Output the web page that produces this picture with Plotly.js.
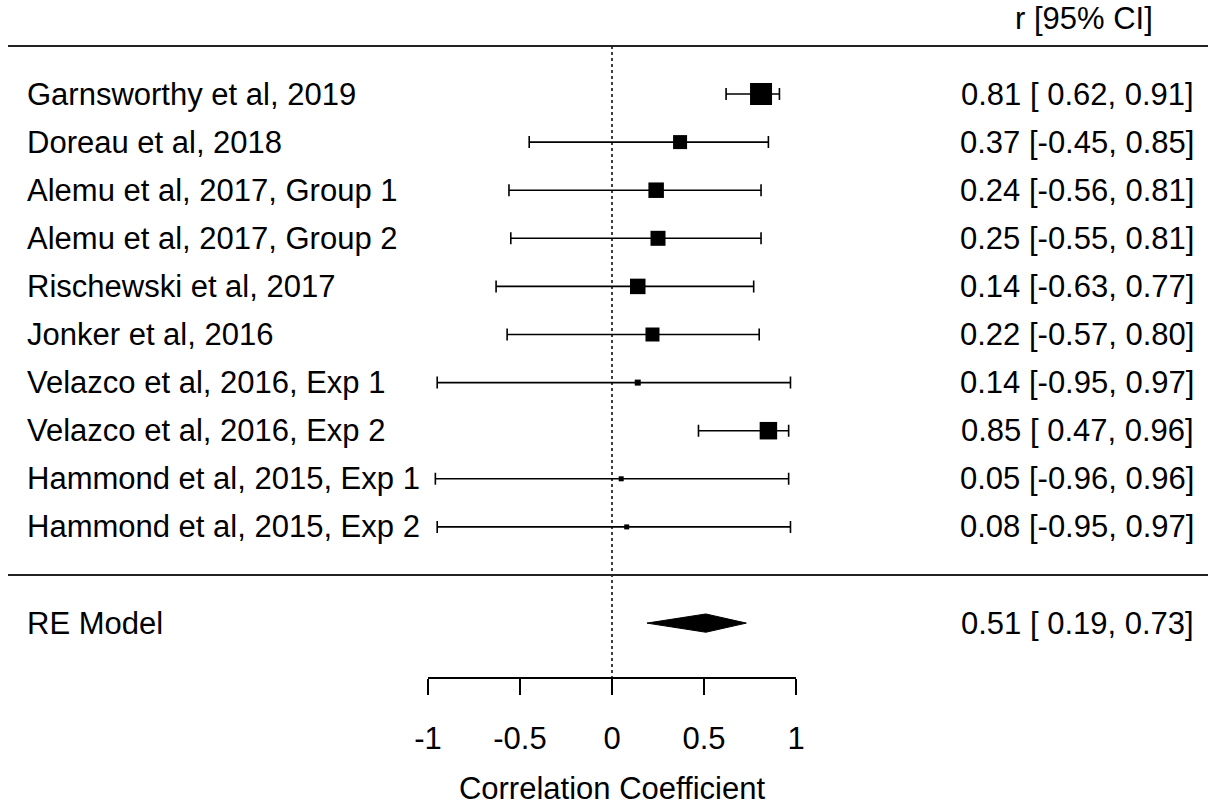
<!DOCTYPE html>
<html>
<head>
<meta charset="utf-8">
<script src="https://cdn.plot.ly/plotly-3.0.1.min.js"></script>
<style>html,body{margin:0;padding:0;background:#fff;}#chart{width:1208px;height:809px;}</style>
</head>
<body>
<div id="chart"></div>
<script>
// ---- data ----
var studies = ["Garnsworthy et al, 2019","Doreau et al, 2018","Alemu et al, 2017, Group 1","Alemu et al, 2017, Group 2","Rischewski et al, 2017","Jonker et al, 2016","Velazco et al, 2016, Exp 1","Velazco et al, 2016, Exp 2","Hammond et al, 2015, Exp 1","Hammond et al, 2015, Exp 2"];
var estimates = [0.81, 0.37, 0.24, 0.25, 0.14, 0.22, 0.14, 0.85, 0.05, 0.08];
var ciLower = [0.62, -0.45, -0.56, -0.55, -0.63, -0.57, -0.95, 0.47, -0.96, -0.95];
var ciUpper = [0.91, 0.85, 0.81, 0.81, 0.77, 0.80, 0.97, 0.96, 0.96, 0.97];
var weights = [22, 14, 15.5, 15, 15.5, 14, 6, 17.5, 5, 5];
var reLabel = "RE Model";
var reEstimate = 0.51;
var reLower = 0.19;
var reUpper = 0.73;
var tickVals = [-1, -0.5, 0, 0.5, 1];
var tickLabels = ["-1", "-0.5", "0", "0.5", "1"];
var header = "r [95% CI]";
var xTitle = "Correlation Coefficient";

// ---- layout helpers ----
var W = 1208, H = 809;
var rowPx = 48.1, row10Px = 94;
var yMax = 10 + row10Px / rowPx;
var yMin = yMax - H / rowPx;
function rowOfPx(p){ return yMax - p / rowPx; }
var k = studies.length;
var rows = studies.map(function(_, i){ return k - i; });
var FONT = "Liberation Sans, Arial, sans-serif";
var FS = 31;

function fmt(v){ var s = v.toFixed(2); return v < 0 ? s : " " + s; }
function ciText(e, l, u){ return e.toFixed(2) + " [" + fmt(l) + ", " + u.toFixed(2) + "]"; }

var traces = [];
traces.push({
  type: "scatter", mode: "markers",
  x: estimates, y: rows,
  marker: {symbol: "square", size: weights, color: "black", opacity: 1, line: {width: 0}},
  error_x: {
    type: "data", symmetric: false,
    array: estimates.map(function(e, i){ return ciUpper[i] - e; }),
    arrayminus: estimates.map(function(e, i){ return e - ciLower[i]; }),
    color: "black", thickness: 1.6, width: 6
  },
  hoverinfo: "skip", showlegend: false, cliponaxis: false
});
var dh = 0.19;
traces.push({
  type: "scatter", mode: "lines",
  x: [reLower, reEstimate, reUpper, reEstimate, reLower],
  y: [-1, -1 + dh, -1, -1 - dh, -1],
  fill: "toself", fillcolor: "black",
  line: {color: "black", width: 1},
  hoverinfo: "skip", showlegend: false
});

var annotations = [];
studies.forEach(function(s, i){
  annotations.push({xref: "paper", yref: "y", x: 25 / W, y: rows[i], text: s, showarrow: false, xanchor: "left", yanchor: "middle", font: {family: FONT, size: FS, color: "black"}});
  annotations.push({xref: "paper", yref: "y", x: 1196 / W, y: rows[i], text: ciText(estimates[i], ciLower[i], ciUpper[i]), showarrow: false, xanchor: "right", yanchor: "middle", font: {family: FONT, size: FS, color: "black"}});
});
annotations.push({xref: "paper", yref: "y", x: 25 / W, y: -1, text: reLabel, showarrow: false, xanchor: "left", yanchor: "middle", font: {family: FONT, size: FS, color: "black"}});
annotations.push({xref: "paper", yref: "y", x: 1196 / W, y: -1, text: ciText(reEstimate, reLower, reUpper), showarrow: false, xanchor: "right", yanchor: "middle", font: {family: FONT, size: FS, color: "black"}});
annotations.push({xref: "paper", yref: "y", x: 1013 / W, y: rowOfPx(18), text: header, showarrow: false, xanchor: "left", yanchor: "middle", font: {family: FONT, size: FS, color: "black"}});

var shapes = [
  {type: "line", xref: "paper", yref: "y", x0: 8 / W, x1: 1, y0: k + 1, y1: k + 1, line: {color: "#222", width: 2}},
  {type: "line", xref: "paper", yref: "y", x0: 8 / W, x1: 1, y0: 0, y1: 0, line: {color: "#222", width: 2}},
  {type: "line", xref: "x", yref: "y", x0: 0, x1: 0, y0: k + 1, y1: rowOfPx(677), line: {color: "black", width: 1.5, dash: "dot"}, layer: "below"}
];

var layout = {
  width: W, height: H,
  margin: {l: 0, r: 0, t: 0, b: 0, pad: 0},
  paper_bgcolor: "white", plot_bgcolor: "white",
  showlegend: false,
  xaxis: {
    domain: [428 / W, 796 / W], range: [-1, 1],
    anchor: "free", position: 1 - 677 / H,
    showline: true, linecolor: "black", linewidth: 1.5,
    ticks: "outside", ticklen: 16, tickwidth: 1.5, tickcolor: "black",
    tickvals: tickVals, ticktext: tickLabels,
    tickfont: {family: FONT, size: FS, color: "black"},
    ticklabelstandoff: 17,
    showgrid: false, zeroline: false,
    title: {text: xTitle, font: {family: FONT, size: FS, color: "black"}, standoff: 22}
  },
  yaxis: {range: [yMin, yMax], visible: false, showgrid: false, zeroline: false, domain: [0, 1]},
  shapes: shapes,
  annotations: annotations
};

Plotly.newPlot("chart", traces, layout, {displayModeBar: false, staticPlot: true});
</script>
</body>
</html>
